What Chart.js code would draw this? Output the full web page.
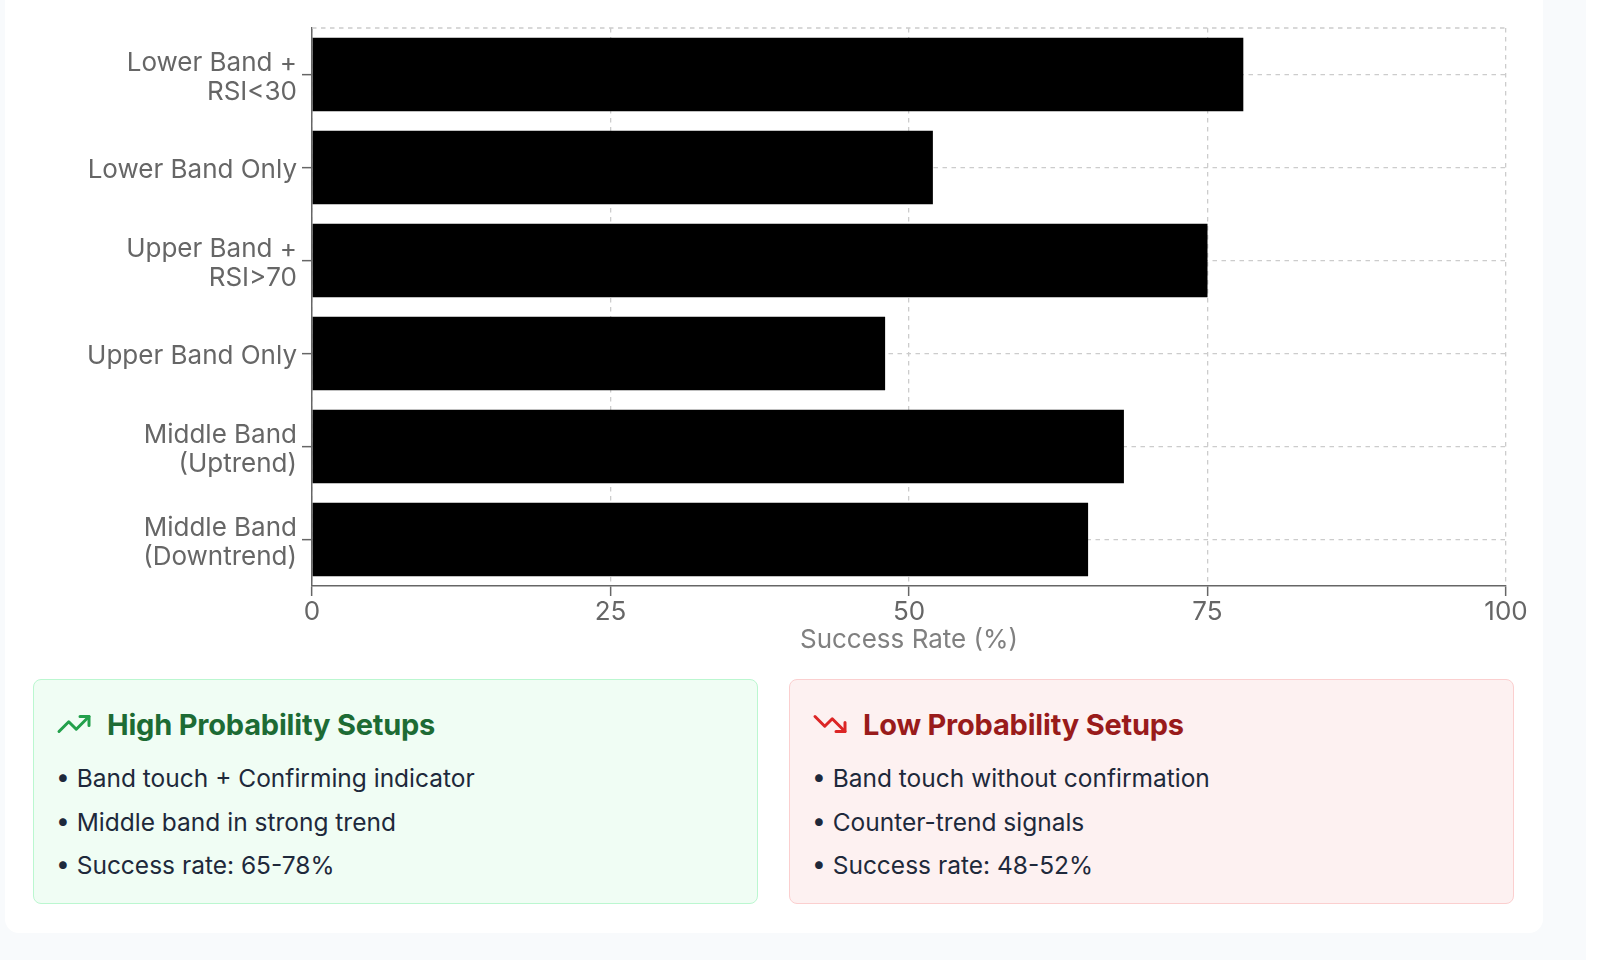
<!DOCTYPE html>
<html>
<head>
<meta charset="utf-8">
<script src="https://cdn.jsdelivr.net/npm/chart.js@4.4.1/dist/chart.umd.min.js"></script>
<style>
  html, body { margin: 0; padding: 0; }
  body { width: 1600px; height: 960px; background: #f8fafc; position: relative; overflow: hidden; font-family: Inter, "Noto Sans", sans-serif; }
  #scrollStrip { position: absolute; right: 0; top: 0; width: 14px; height: 960px; background: #fff; }
  #card { position: absolute; left: 5px; top: -40px; width: 1538px; height: 973px; background: #fff; border-radius: 14px; }
  #chartBox { position: absolute; left: 0; top: 40px; width: 1538px; height: 655px; }
  .note { position: absolute; top: 719px; width: 725px; height: 225px; box-sizing: border-box; border-radius: 8px; padding: 26px 22px 0 22px; }
  .note.good { left: 28px; background: #f0fdf4; border: 1.5px solid #bbf7d0; }
  .note.bad { left: 784px; background: #fdf1f1; border: 1.5px solid #fbcfcf; }
  .note h3 { margin: 0; display: flex; align-items: center; height: 36px; font-size: 29px; font-weight: 700; letter-spacing: -0.2px; }
  .note h3 svg { width: 36px; height: 36px; margin-right: 15px; flex: none; }
  .good h3 { color: #1d6b34; }
  .bad h3 { color: #991b1b; }
  .note ul { list-style: none; margin: 18px 0 0 0; padding: 0; }
  .note li { font-size: 24.5px; line-height: 36px; height: 36px; margin-bottom: 7.5px; color: #1e293b; white-space: nowrap; }
</style>
</head>
<body>
<div id="scrollStrip"></div>
<div id="card">
  <div id="chartBox"><canvas id="barChart"></canvas></div>

  <div class="note good">
    <h3><svg viewBox="0 0 24 24" fill="none" stroke="#22a04b" stroke-width="2" stroke-linecap="round" stroke-linejoin="round"><polyline points="22 7 13.5 15.5 8.5 10.5 2 17"/><polyline points="16 7 22 7 22 13"/></svg>High Probability Setups</h3>
    <ul>
      <li>• Band touch + Confirming indicator</li>
      <li>• Middle band in strong trend</li>
      <li>• Success rate: 65-78%</li>
    </ul>
  </div>

  <div class="note bad">
    <h3><svg viewBox="0 0 24 24" fill="none" stroke="#dc2626" stroke-width="2" stroke-linecap="round" stroke-linejoin="round"><polyline points="22 17 13.5 8.5 8.5 13.5 2 7"/><polyline points="16 17 22 17 22 11"/></svg>Low Probability Setups</h3>
    <ul>
      <li>• Band touch without confirmation</li>
      <li>• Counter-trend signals</li>
      <li>• Success rate: 48-52%</li>
    </ul>
  </div>
</div>

<script>
/////////////////////////////// data \\\\\\\\\\\\\\\\\\\\\\\\\\\\\\\

const setups = [
  ['Lower Band +', 'RSI<30'],
  'Lower Band Only',
  ['Upper Band +', 'RSI>70'],
  'Upper Band Only',
  ['Middle Band', '(Uptrend)'],
  ['Middle Band', '(Downtrend)']
];
const successRates = [78, 52, 75, 48, 68, 65];
const rateMin = 0;
const rateMax = 100;
const rateStep = 25;
const axisTitle = 'Success Rate (%)';

/////////////////////////////// chart \\\\\\\\\\\\\\\\\\\\\\\\\\\\\\\

const gridGray = '#cccccc';
const axisGray = '#666666';
const dash = [4.5, 4.5];
const tickFont = { family: 'Inter', size: 26, lineHeight: 1.12 };

// dashed frame line along the top of the plot area
const topLine = {
  id: 'topLine',
  beforeDatasetsDraw(chart) {
    const ctx = chart.ctx;
    const a = chart.chartArea;
    ctx.save();
    ctx.strokeStyle = gridGray;
    ctx.lineWidth = 1.3;
    ctx.setLineDash(dash);
    ctx.beginPath();
    ctx.moveTo(a.left, a.top);
    ctx.lineTo(a.right, a.top);
    ctx.stroke();
    ctx.restore();
  }
};

const ctx = document.getElementById('barChart').getContext('2d');
const myChart = new Chart(ctx, {
  type: 'bar',
  data: {
    labels: setups,
    datasets: [{
      label: 'Success Rate',
      data: successRates,
      backgroundColor: '#000000',
      borderWidth: 0,
      categoryPercentage: 1,
      barPercentage: 0.79
    }]
  },
  options: {
    indexAxis: 'y',
    responsive: true,
    maintainAspectRatio: false,
    animation: false,
    layout: { padding: { top: 28, right: 37, left: 0, bottom: 0 } },
    plugins: {
      legend: { display: false },
      tooltip: { enabled: false }
    },
    scales: {
      x: {
        min: rateMin,
        max: rateMax,
        afterFit: function(scale) { scale.height = 69; },
        ticks: {
          stepSize: rateStep,
          color: axisGray,
          padding: 2,
          font: tickFont
        },
        grid: {
          color: gridGray,
          lineWidth: 1.3,
          tickColor: axisGray,
          tickWidth: 1.5,
          tickLength: 10
        },
        border: { color: axisGray, width: 1.5, dash: dash },
        title: {
          display: true,
          text: axisTitle,
          color: '#808080',
          padding: 0,
          font: tickFont
        }
      },
      y: {
        afterFit: function(scale) {
          scale.width = 307;
          scale.paddingTop = 0;
          scale.paddingBottom = 0;
        },
        ticks: {
          color: axisGray,
          padding: 5,
          labelOffset: 3,
          font: tickFont
        },
        grid: {
          offset: false,
          color: gridGray,
          lineWidth: 1.3,
          tickColor: axisGray,
          tickWidth: 1.5,
          tickLength: 10
        },
        border: { color: axisGray, width: 1.5, dash: dash }
      }
    }
  },
  plugins: [topLine]
});
</script>
</body>
</html>
